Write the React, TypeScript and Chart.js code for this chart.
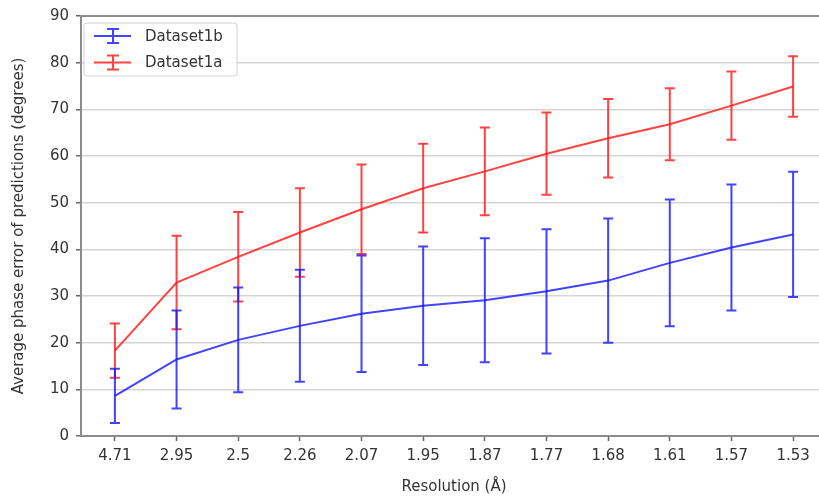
import React, { useEffect, useRef } from 'react';
import { Chart, registerables } from 'chart.js';

Chart.register(...registerables);

const resolutions = ['4.71', '2.95', '2.5', '2.26', '2.07', '1.95', '1.87', '1.77', '1.68', '1.61', '1.57', '1.53'];
const dataset1bMean = [8.6, 16.4, 20.6, 23.6, 26.2, 27.9, 29.1, 31.0, 33.3, 37.1, 40.4, 43.2];
const dataset1bErr = [5.8, 10.5, 11.2, 12.0, 12.5, 12.7, 13.3, 13.3, 13.3, 13.6, 13.5, 13.4];
const dataset1aMean = [18.3, 32.9, 38.4, 43.6, 48.6, 53.1, 56.7, 60.5, 63.8, 66.8, 70.8, 74.9];
const dataset1aErr = [5.8, 10.0, 9.6, 9.5, 9.6, 9.5, 9.4, 8.8, 8.4, 7.7, 7.3, 6.5];
const yTicks = [0, 10, 20, 30, 40, 50, 60, 70, 80, 90];

const BLUE = 'rgba(20,20,255,0.8)';
const RED = 'rgba(255,20,20,0.8)';
const FONT = 'DejaVu Sans';
const FS = 15;

const errors = [dataset1bErr, dataset1aErr];
const means = [dataset1bMean, dataset1aMean];
const colors = [BLUE, RED];
const names = ['Dataset1b', 'Dataset1a'];

const errorBarPlugin = {
  id: 'errorBars',
  afterDatasetDraw(chart: any, args: any) {
    const i = args.index;
    const { ctx, scales } = chart;
    const xs = scales.x;
    const ys = scales.y;
    ctx.save();
    ctx.strokeStyle = colors[i];
    ctx.lineWidth = 2;
    means[i].forEach((m, k) => {
      const x = xs.getPixelForValue(k);
      const yt = ys.getPixelForValue(m + errors[i][k]);
      const yb = ys.getPixelForValue(m - errors[i][k]);
      ctx.beginPath();
      ctx.moveTo(x, yt);
      ctx.lineTo(x, yb);
      ctx.moveTo(x - 5, yt);
      ctx.lineTo(x + 5, yt);
      ctx.moveTo(x - 5, yb);
      ctx.lineTo(x + 5, yb);
      ctx.stroke();
    });
    ctx.restore();
  },
  afterDraw(chart: any) {
    const { ctx, chartArea } = chart;
    ctx.save();
    ctx.strokeStyle = '#8c8c8c';
    ctx.lineWidth = 2;
    ctx.beginPath();
    ctx.moveTo(chartArea.left, chartArea.top);
    ctx.lineTo(chartArea.right, chartArea.top);
    ctx.stroke();
    const bx = chartArea.left + 3;
    const by = chartArea.top + 7;
    const bw = 153;
    const bh = 53;
    ctx.fillStyle = 'rgba(255,255,255,0.85)';
    ctx.strokeStyle = 'rgba(200,200,200,0.8)';
    ctx.lineWidth = 1;
    ctx.beginPath();
    if (ctx.roundRect) ctx.roundRect(bx, by, bw, bh, 3);
    else ctx.rect(bx, by, bw, bh);
    ctx.fill();
    ctx.stroke();
    names.forEach((name, k) => {
      const cy = by + 13 + k * 26.5;
      ctx.strokeStyle = colors[k];
      ctx.lineWidth = 2;
      ctx.beginPath();
      ctx.moveTo(bx + 10, cy);
      ctx.lineTo(bx + 47, cy);
      ctx.moveTo(bx + 29, cy - 7);
      ctx.lineTo(bx + 29, cy + 7);
      ctx.moveTo(bx + 23, cy - 7);
      ctx.lineTo(bx + 35, cy - 7);
      ctx.moveTo(bx + 23, cy + 7);
      ctx.lineTo(bx + 35, cy + 7);
      ctx.stroke();
      ctx.fillStyle = '#333';
      ctx.font = `${FS}px "${FONT}"`;
      ctx.textBaseline = 'middle';
      ctx.textAlign = 'left';
      ctx.fillText(name, bx + 61, cy + 1);
    });
    ctx.restore();
  },
};

export default function App() {
  const canvasRef = useRef<HTMLCanvasElement | null>(null);

  useEffect(() => {
    document.body.style.margin = '0';
    if (!canvasRef.current) return;
    Chart.defaults.font.family = FONT;
    const chart = new Chart(canvasRef.current, {
      type: 'line',
      data: {
        datasets: [
          {
            label: names[0],
            data: dataset1bMean.map((v, i) => ({ x: i, y: v })),
            borderColor: BLUE,
            backgroundColor: BLUE,
            borderWidth: 2,
            pointRadius: 0,
            tension: 0,
          },
          {
            label: names[1],
            data: dataset1aMean.map((v, i) => ({ x: i, y: v })),
            borderColor: RED,
            backgroundColor: RED,
            borderWidth: 2,
            pointRadius: 0,
            tension: 0,
          },
        ],
      },
      options: {
        animation: false,
        responsive: false,
        events: [],
        layout: { padding: { left: 0, right: 13, top: 16, bottom: 0 } },
        plugins: {
          legend: { display: false },
          tooltip: { enabled: false },
        },
        scales: {
          x: {
            type: 'linear',
            min: -0.55,
            max: 11.55,
            afterBuildTicks: (scale: any) => {
              scale.ticks = resolutions.map((_, i) => ({ value: i }));
            },
            afterFit: (scale: any) => {
              scale.height = 61;
            },
            ticks: {
              callback: (v: any) => resolutions[Math.round(Number(v))] ?? '',
              color: '#333',
              font: { size: FS, family: FONT },
              padding: 6,
              maxRotation: 0,
              autoSkip: false,
            },
            grid: {
              drawOnChartArea: false,
              drawTicks: true,
              tickLength: 5,
              tickColor: '#666',
              tickWidth: 1.5,
            },
            border: { display: true, color: '#8c8c8c', width: 2 },
            title: {
              display: true,
              text: 'Resolution (Å)',
              color: '#333',
              font: { size: FS, family: FONT },
              padding: { top: 0, bottom: 1 },
            },
          },
          y: {
            type: 'linear',
            min: 0,
            max: 90,
            afterBuildTicks: (scale: any) => {
              scale.ticks = yTicks.map((v) => ({ value: v }));
            },
            afterFit: (scale: any) => {
              scale.width = 81;
            },
            ticks: {
              color: '#333',
              font: { size: FS, family: FONT },
              padding: 7,
            },
            grid: {
              color: 'rgba(0,0,0,0.17)',
              lineWidth: 1.5,
              tickLength: 5,
              tickColor: '#666',
              tickWidth: 1.5,
            },
            border: { display: true, color: '#8c8c8c', width: 2 },
            title: {
              display: true,
              text: 'Average phase error of predictions (degrees)',
              color: '#333',
              font: { size: FS, family: FONT },
              padding: { top: 10, bottom: 0 },
            },
          },
        },
      },
      plugins: [errorBarPlugin],
    });
    return () => chart.destroy();
  }, []);

  return (
    <div style={{ position: 'absolute', left: 0, top: 0, width: 819, height: 497, overflow: 'hidden', background: '#fff' }}>
      <canvas ref={canvasRef} width={840} height={497} style={{ display: 'block', width: 840, height: 497 }} />
    </div>
  );
}
